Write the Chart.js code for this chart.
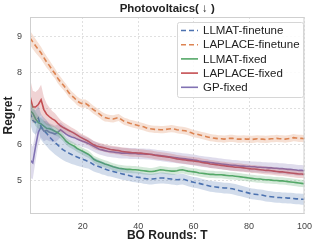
<!DOCTYPE html>
<html>
<head>
<meta charset="utf-8">
<script src="https://cdn.jsdelivr.net/npm/chart.js@4"></script>
<style>
  html, body { margin: 0; padding: 0; background: #fff; }
  #wrap { width: 319px; height: 248px; position: relative; }
</style>
</head>
<body>
<div id="wrap"><canvas id="chart"></canvas></div>
<script>
// rounds 1..100
const ROUNDS = [
  1,2,3,4,5,6,7,8,9,10,11,12,13,14,15,16,17,18,19,20,
  21,22,23,24,25,26,27,28,29,30,31,32,33,34,35,36,37,38,39,40,
  41,42,43,44,45,46,47,48,49,50,51,52,53,54,55,56,57,58,59,60,
  61,62,63,64,65,66,67,68,69,70,71,72,73,74,75,76,77,78,79,80,
  81,82,83,84,85,86,87,88,89,90,91,92,93,94,95,96,97,98,99,100
];

// mean regret per series
const llmatFinetune = [
  6.90,6.68,6.62,6.74,6.50,6.40,6.32,6.22,6.14,6.06,6.00,5.92,5.86,5.81,5.77,5.73,5.70,5.66,5.63,5.60,
  5.57,5.54,5.50,5.45,5.42,5.39,5.36,5.33,5.30,5.28,5.26,5.24,5.22,5.20,5.18,5.16,5.14,5.12,5.11,5.10,
  5.09,5.07,5.06,5.05,5.05,5.06,5.07,5.08,5.08,5.07,5.06,5.05,5.04,5.03,5.04,5.05,5.03,5.00,4.98,4.96,
  4.95,4.93,4.91,4.89,4.87,4.85,4.84,4.83,4.82,4.81,4.80,4.80,4.79,4.78,4.76,4.74,4.72,4.70,4.68,4.66,
  4.64,4.63,4.62,4.61,4.60,4.58,4.57,4.56,4.55,4.54,4.54,4.53,4.53,4.52,4.52,4.51,4.50,4.50,4.49,4.49
];
const laplaceFinetune = [
  8.97,8.86,8.75,8.65,8.55,8.42,8.30,8.20,8.08,7.98,7.85,7.75,7.66,7.56,7.45,7.37,7.30,7.22,7.17,7.14,
  7.15,7.10,7.03,6.97,6.92,6.86,6.80,6.76,6.74,6.73,6.72,6.74,6.76,6.70,6.65,6.63,6.60,6.58,6.56,6.54,
  6.52,6.50,6.47,6.45,6.44,6.43,6.43,6.42,6.42,6.43,6.44,6.45,6.44,6.42,6.41,6.40,6.39,6.37,6.34,6.31,
  6.30,6.28,6.26,6.24,6.22,6.20,6.19,6.18,6.17,6.17,6.16,6.17,6.18,6.18,6.17,6.16,6.16,6.17,6.16,6.16,
  6.15,6.16,6.17,6.16,6.16,6.15,6.16,6.17,6.17,6.18,6.17,6.17,6.16,6.17,6.18,6.20,6.19,6.18,6.18,6.17
];
const llmatFixed = [
  6.95,6.88,6.72,6.62,6.58,6.52,6.46,6.45,6.42,6.38,6.34,6.28,6.20,6.10,6.04,6.00,5.96,5.90,5.86,5.82,
  5.78,5.74,5.68,5.60,5.56,5.53,5.50,5.47,5.45,5.42,5.39,5.37,5.35,5.34,5.33,5.32,5.32,5.31,5.31,5.30,
  5.29,5.28,5.27,5.26,5.26,5.27,5.29,5.31,5.30,5.29,5.28,5.27,5.27,5.28,5.30,5.31,5.29,5.27,5.26,5.25,
  5.24,5.22,5.21,5.20,5.19,5.18,5.18,5.17,5.17,5.17,5.16,5.15,5.14,5.14,5.13,5.12,5.11,5.10,5.09,5.08,
  5.07,5.06,5.05,5.05,5.04,5.03,5.03,5.02,5.01,5.01,5.00,5.00,4.99,4.98,4.97,4.96,4.95,4.94,4.93,4.92
];
const laplaceFixed = [
  7.35,7.05,7.05,7.12,7.25,6.98,6.85,6.78,6.72,6.68,6.60,6.53,6.48,6.44,6.40,6.36,6.32,6.27,6.22,6.18,
  6.14,6.10,6.05,6.00,5.97,5.95,5.93,5.91,5.89,5.87,5.86,5.85,5.84,5.82,5.81,5.80,5.79,5.78,5.78,5.77,
  5.77,5.76,5.75,5.74,5.73,5.71,5.70,5.69,5.68,5.67,5.66,5.64,5.63,5.61,5.60,5.59,5.58,5.57,5.56,5.55,
  5.54,5.53,5.51,5.50,5.49,5.47,5.46,5.45,5.44,5.43,5.42,5.41,5.40,5.39,5.38,5.38,5.37,5.36,5.35,5.34,
  5.33,5.33,5.32,5.31,5.30,5.29,5.29,5.28,5.27,5.26,5.25,5.25,5.24,5.23,5.22,5.21,5.20,5.19,5.19,5.18
];
const gpFixed = [
  5.58,5.50,5.95,6.35,6.50,6.38,6.40,6.35,6.33,6.30,6.35,6.42,6.36,6.30,6.25,6.22,6.20,6.16,6.13,6.10,
  6.07,6.04,6.00,5.96,5.92,5.88,5.86,5.84,5.82,5.81,5.80,5.79,5.78,5.77,5.77,5.77,5.76,5.76,5.76,5.75,
  5.75,5.75,5.74,5.74,5.73,5.72,5.71,5.70,5.69,5.68,5.67,5.66,5.65,5.64,5.63,5.62,5.61,5.60,5.59,5.58,
  5.57,5.55,5.54,5.53,5.52,5.51,5.50,5.49,5.48,5.47,5.46,5.45,5.44,5.43,5.43,5.42,5.41,5.41,5.40,5.40,
  5.39,5.39,5.38,5.38,5.37,5.37,5.36,5.36,5.35,5.35,5.34,5.34,5.33,5.32,5.32,5.31,5.30,5.29,5.29,5.28
];

// half width of the shaded band around each mean
const llmatFinetuneSpread = [
  0.30,0.32,0.34,0.35,0.36,0.36,0.36,0.35,0.34,0.33,0.32,0.30,0.29,0.28,0.27,0.26,0.25,0.24,0.23,0.22,
  0.21,0.20,0.20,0.19,0.19,0.18,0.18,0.17,0.17,0.16,0.16,0.16,0.16,0.16,0.16,0.15,0.15,0.15,0.15,0.15,
  0.15,0.15,0.15,0.15,0.15,0.15,0.15,0.15,0.15,0.15,0.15,0.15,0.15,0.15,0.15,0.15,0.15,0.15,0.15,0.15,
  0.15,0.15,0.15,0.15,0.15,0.15,0.15,0.15,0.15,0.15,0.15,0.15,0.15,0.15,0.15,0.15,0.15,0.15,0.15,0.15,
  0.15,0.15,0.15,0.15,0.15,0.15,0.15,0.15,0.15,0.15,0.15,0.15,0.15,0.15,0.15,0.15,0.15,0.15,0.15,0.15
];
const laplaceFinetuneSpread = [
  0.20,0.20,0.19,0.18,0.17,0.16,0.16,0.15,0.15,0.14,0.14,0.14,0.13,0.13,0.13,0.12,0.12,0.12,0.12,0.12,
  0.11,0.11,0.11,0.11,0.11,0.11,0.11,0.11,0.10,0.10,0.10,0.10,0.10,0.10,0.10,0.10,0.10,0.10,0.10,0.10,
  0.10,0.10,0.10,0.10,0.10,0.10,0.10,0.10,0.10,0.10,0.10,0.10,0.10,0.10,0.10,0.10,0.10,0.10,0.10,0.10,
  0.10,0.10,0.10,0.10,0.10,0.10,0.10,0.10,0.10,0.10,0.10,0.10,0.10,0.10,0.10,0.10,0.10,0.10,0.10,0.10,
  0.10,0.10,0.10,0.10,0.10,0.10,0.10,0.10,0.10,0.10,0.10,0.10,0.10,0.10,0.10,0.10,0.10,0.10,0.10,0.10
];
const llmatFixedSpread = [
  0.25,0.22,0.20,0.18,0.16,0.15,0.14,0.13,0.12,0.12,0.11,0.11,0.11,0.10,0.10,0.10,0.10,0.10,0.10,0.10,
  0.10,0.10,0.10,0.10,0.10,0.10,0.10,0.10,0.10,0.10,0.10,0.10,0.10,0.10,0.10,0.10,0.10,0.10,0.10,0.10,
  0.10,0.10,0.10,0.10,0.10,0.10,0.10,0.10,0.10,0.10,0.10,0.10,0.10,0.10,0.10,0.10,0.10,0.10,0.10,0.10,
  0.10,0.10,0.10,0.10,0.10,0.10,0.10,0.10,0.10,0.10,0.10,0.10,0.10,0.10,0.10,0.10,0.10,0.10,0.10,0.10,
  0.10,0.10,0.10,0.10,0.10,0.10,0.10,0.10,0.10,0.10,0.10,0.10,0.10,0.10,0.10,0.10,0.10,0.10,0.10,0.10
];
const laplaceFixedSpread = [
  0.50,0.45,0.42,0.42,0.42,0.35,0.30,0.26,0.22,0.20,0.18,0.16,0.15,0.14,0.13,0.12,0.12,0.12,0.11,0.11,
  0.11,0.11,0.11,0.11,0.11,0.11,0.11,0.11,0.11,0.11,0.11,0.11,0.11,0.11,0.11,0.11,0.11,0.11,0.11,0.11,
  0.11,0.11,0.11,0.11,0.11,0.11,0.11,0.11,0.11,0.11,0.11,0.11,0.11,0.11,0.11,0.11,0.11,0.11,0.11,0.11,
  0.11,0.11,0.11,0.11,0.11,0.11,0.11,0.11,0.11,0.11,0.11,0.11,0.11,0.11,0.11,0.11,0.11,0.11,0.11,0.11,
  0.11,0.11,0.11,0.11,0.11,0.11,0.11,0.11,0.11,0.11,0.11,0.11,0.11,0.11,0.11,0.11,0.11,0.11,0.11,0.11
];
const gpFixedSpread = [
  0.50,0.45,0.40,0.35,0.30,0.28,0.26,0.25,0.24,0.23,0.22,0.21,0.20,0.19,0.18,0.18,0.17,0.17,0.16,0.16,
  0.15,0.15,0.15,0.15,0.15,0.15,0.15,0.15,0.15,0.15,0.15,0.15,0.15,0.15,0.15,0.15,0.15,0.15,0.15,0.15,
  0.15,0.15,0.15,0.15,0.15,0.15,0.15,0.15,0.15,0.15,0.15,0.15,0.15,0.15,0.15,0.15,0.15,0.15,0.15,0.15,
  0.15,0.15,0.15,0.15,0.15,0.15,0.15,0.15,0.15,0.15,0.15,0.15,0.15,0.15,0.15,0.15,0.15,0.15,0.15,0.15,
  0.15,0.15,0.15,0.15,0.15,0.15,0.15,0.15,0.15,0.15,0.15,0.15,0.15,0.15,0.15,0.15,0.15,0.15,0.15,0.15
];

const X_TICKS = [20, 40, 60, 80, 100];
const Y_TICKS = [5, 6, 7, 8, 9];

const SERIES = [
  { label: 'LLMAT-finetune',   mean: llmatFinetune,   spread: llmatFinetuneSpread,   color: '76,114,176',  dash: [5, 3] },
  { label: 'LAPLACE-finetune', mean: laplaceFinetune, spread: laplaceFinetuneSpread, color: '221,132,82',  dash: [5, 3] },
  { label: 'LLMAT-fixed',      mean: llmatFixed,      spread: llmatFixedSpread,      color: '85,168,104',  dash: [] },
  { label: 'LAPLACE-fixed',    mean: laplaceFixed,    spread: laplaceFixedSpread,    color: '196,78,82',   dash: [] },
  { label: 'GP-fixed',         mean: gpFixed,         spread: gpFixedSpread,         color: '129,114,179', dash: [] }
];

const FONT = '"Liberation Sans", Arial, sans-serif';

const datasets = [];
// bands first so every line sits on top of them
SERIES.forEach(s => {
  datasets.push({
    data: ROUNDS.map((t, i) => ({ x: t, y: s.mean[i] - s.spread[i] })),
    borderWidth: 0, pointRadius: 0, fill: false
  });
  datasets.push({
    data: ROUNDS.map((t, i) => ({ x: t, y: s.mean[i] + s.spread[i] })),
    borderWidth: 0, pointRadius: 0, fill: '-1',
    backgroundColor: `rgba(${s.color},0.25)`
  });
});
SERIES.forEach(s => {
  datasets.push({
    label: s.label,
    data: ROUNDS.map((t, i) => ({ x: t, y: s.mean[i] })),
    borderColor: `rgb(${s.color})`,
    borderWidth: 1.6,
    borderDash: s.dash,
    pointRadius: 0,
    fill: false,
    tension: 0
  });
});

// title, axis titles, legend and plot frame
const decor = {
  id: 'decor',
  afterDraw(chart) {
    const { ctx, chartArea: a } = chart;
    ctx.save();
    ctx.strokeStyle = '#cfcfcf';
    ctx.lineWidth = 1;
    ctx.strokeRect(a.left + 0.5, a.top + 0.5, a.right - a.left - 1, a.bottom - a.top - 1);

    ctx.fillStyle = '#222';
    ctx.textAlign = 'center';
    ctx.textBaseline = 'middle';
    ctx.font = `bold 11.5px ${FONT}`;
    ctx.fillText('Photovoltaics( \u2193 )', (a.left + a.right) / 2, 9);
    ctx.font = `bold 12px ${FONT}`;
    ctx.fillText('BO Rounds: T', (a.left + a.right) / 2, 236);
    ctx.save();
    ctx.translate(9, (a.top + a.bottom) / 2);
    ctx.rotate(-Math.PI / 2);
    ctx.fillText('Regret', 0, 0);
    ctx.restore();

    // legend box
    const lx = 177, ly = 22, lw = 126, lh = 75;
    ctx.fillStyle = 'rgba(255,255,255,0.85)';
    ctx.strokeStyle = '#d6d6d6';
    ctx.beginPath();
    ctx.roundRect(lx + 0.5, ly + 0.5, lw, lh, 2);
    ctx.fill();
    ctx.stroke();
    ctx.font = `11.5px ${FONT}`;
    ctx.textAlign = 'left';
    SERIES.forEach((s, i) => {
      const y = ly + 8.5 + i * 14.2;
      ctx.strokeStyle = `rgb(${s.color})`;
      ctx.lineWidth = 1.6;
      ctx.setLineDash(s.dash);
      ctx.beginPath();
      ctx.moveTo(lx + 4, y);
      ctx.lineTo(lx + 21, y);
      ctx.stroke();
      ctx.setLineDash([]);
      ctx.fillStyle = '#222';
      ctx.fillText(s.label, lx + 26, y + 0.5);
    });
    ctx.restore();
  }
};

new Chart(document.getElementById('chart'), {
  type: 'line',
  data: { datasets },
  options: {
    responsive: true,
    maintainAspectRatio: false,
    animation: false,
    layout: { padding: { top: 17, right: 12, left: 0, bottom: 0 } },
    plugins: {
      legend: { display: false },
      tooltip: { enabled: false },
      filler: { propagate: false }
    },
    scales: {
      x: {
        type: 'linear',
        min: 1,
        max: 100,
        afterBuildTicks: s => { s.ticks = X_TICKS.map(v => ({ value: v })); },
        afterFit: s => { s.height = 34; },
        grid: { color: '#d9d9d9', drawTicks: false, lineWidth: 0.8 },
        border: { display: false, dash: [2, 2] },
        ticks: { color: '#444', font: { family: FONT, size: 9 }, padding: 7, maxRotation: 0 }
      },
      y: {
        min: 4.08,
        max: 9.55,
        afterBuildTicks: s => { s.ticks = Y_TICKS.map(v => ({ value: v })); },
        afterFit: s => { s.width = 30; },
        grid: { color: '#d9d9d9', drawTicks: false, lineWidth: 0.8 },
        border: { display: false, dash: [2, 2] },
        ticks: { color: '#444', font: { family: FONT, size: 9 }, padding: 8 }
      }
    }
  },
  plugins: [decor]
});
</script>
</body>
</html>
